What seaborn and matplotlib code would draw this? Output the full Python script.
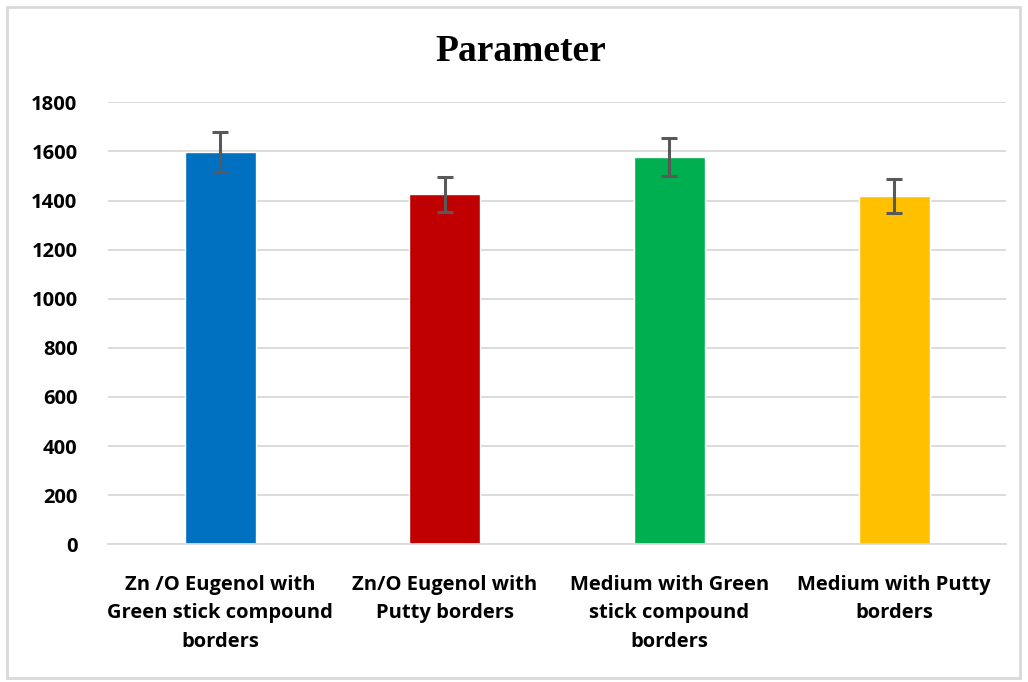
import matplotlib
matplotlib.use("Agg")
import matplotlib.pyplot as plt
import seaborn as sns
import pandas as pd
from matplotlib.patches import Rectangle

# data
groups = ["Zn /O Eugenol with\nGreen stick compound\nborders",
          "Zn/O Eugenol with\nPutty borders",
          "Medium with Green\nstick compound\nborders",
          "Medium with Putty\nborders"]
values = [1597, 1425, 1576, 1418]
errors = [80, 71, 78, 70]
colors = ["#0070C0", "#C00000", "#00B050", "#FFC000"]
yticks = [0, 200, 400, 600, 800, 1000, 1200, 1400, 1600, 1800]

df = pd.DataFrame({"group": groups, "value": values})

sns.set_style("white")
plt.rcParams['font.family'] = ['Open Sans', 'DejaVu Sans']

fig = plt.figure(figsize=(10.28, 6.82), dpi=100)
ax = fig.add_axes([0.105, 0.202, 0.874, 0.648])

sns.barplot(data=df, x="group", y="value", hue="group", palette=colors,
            width=0.316, legend=False, ax=ax, errorbar=None, saturation=1)
ax.errorbar(range(len(values)), values, yerr=errors, fmt="none",
            ecolor="#595959", elinewidth=2.2, capsize=6, capthick=2.2, zorder=5)

ax.set_xlim(-0.5, 3.5)
ax.set_ylim(0, 1800)
ax.set_yticks(yticks)
ax.yaxis.grid(True, color="#d9d9d9", linewidth=1.3)
ax.set_axisbelow(True)
for s in ["top", "right", "left"]:
    ax.spines[s].set_visible(False)
ax.spines["bottom"].set_color("#d9d9d9")
ax.spines["bottom"].set_linewidth(1.3)

ax.set_xlabel("")
ax.set_ylabel("")
ax.tick_params(axis="both", length=0, labelsize=14.5, labelcolor="black")
ax.tick_params(axis="y", pad=22)
ax.tick_params(axis="x", pad=22)
for lab in ax.get_yticklabels() + ax.get_xticklabels():
    lab.set_fontweight("bold")
for lab in ax.get_xticklabels():
    lab.set_linespacing(1.58)

fig.text(0.507, 0.925, "Parameter", ha="center", va="center", color="black",
         fontsize=27, fontweight="bold", family="Liberation Serif")

fig.patches.append(Rectangle((0.007, 0.006), 0.985, 0.984, transform=fig.transFigure,
                             fill=False, edgecolor="#d9d9d9", linewidth=2))

fig.savefig("out.png", dpi=100)
